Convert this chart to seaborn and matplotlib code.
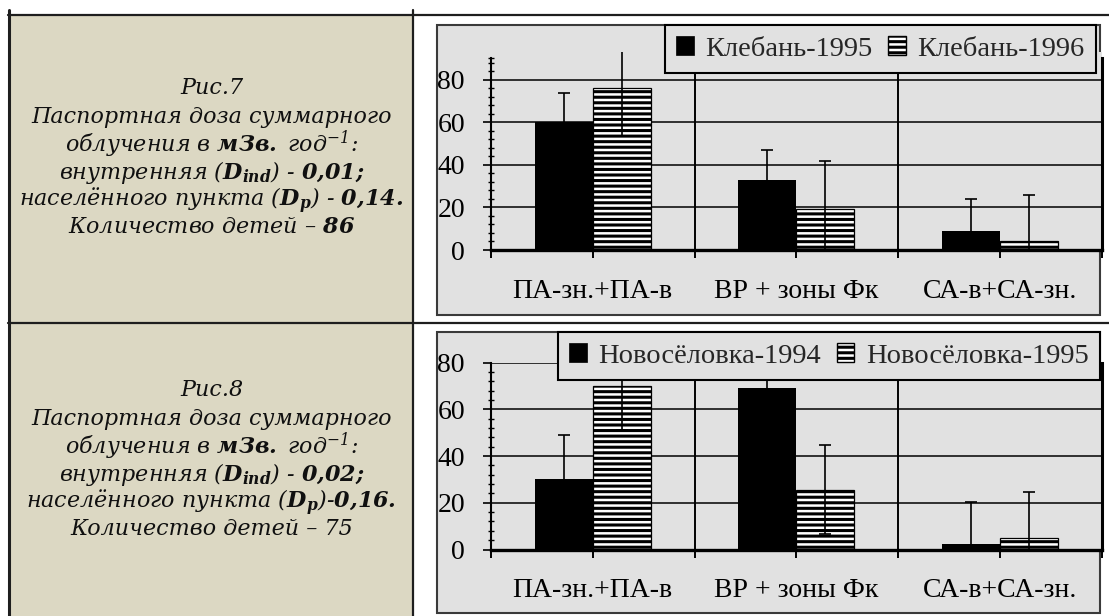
import matplotlib
matplotlib.use("Agg")
import numpy as np
import pandas as pd
import seaborn as sns
import matplotlib.pyplot as plt
from matplotlib.patches import Rectangle, Patch
from matplotlib.lines import Line2D
from matplotlib.ticker import FixedLocator

# ---- data -------------------------------------------------------------
categories = ["ПА-зн.+ПА-в", "ВР + зоны Фк", "СА-в+СА-зн."]

series7 = ["Клебань-1995", "Клебань-1996"]
klebань_1995 = [60, 33, 9]
klebань_1995_err = [14, 14, 15]
klebань_1996 = [76, 19.5, 4]
klebань_1996_err = [22.5, 22.5, 22]

series8 = ["Новосёловка-1994", "Новосёловка-1995"]
novoselovka_1994 = [30, 69, 2.5]
novoselovka_1994_err = [19, 19, 18]
novoselovka_1995 = [70, 25.5, 5]
novoselovka_1995_err = [18.7, 19, 19.5]

y_ticks = [0, 20, 40, 60, 80]

caption7 = [
    "Рис.7",
    "Паспортная доза суммарного",
    r"облучения в $\mathbf{мЗв.}$ год$^{-1}$:",
    r"внутренняя ($\mathbf{D}_{\mathbf{ind}}$) - $\mathbf{0{,}01;}$",
    r"населённого пункта ($\mathbf{D}_{\mathbf{p}}$) - $\mathbf{0{,}14.}$",
    r"Количество детей – $\mathbf{86}$",
]
caption8 = [
    "Рис.8",
    "Паспортная доза суммарного",
    r"облучения в $\mathbf{мЗв.}$ год$^{-1}$:",
    r"внутренняя ($\mathbf{D}_{\mathbf{ind}}$) - $\mathbf{0{,}02;}$",
    r"населённого пункта ($\mathbf{D}_{\mathbf{p}}$)-$\mathbf{0{,}16.}$",
    "Количество детей – 75",
]

# ---- style ------------------------------------------------------------
sns.set_theme(style="ticks")
plt.rcParams["font.family"] = ["Liberation Serif", "DejaVu Serif"]
plt.rcParams["mathtext.fontset"] = "custom"
plt.rcParams["mathtext.rm"] = "DejaVu Serif:italic"
plt.rcParams["mathtext.it"] = "DejaVu Serif:italic"
plt.rcParams["mathtext.bf"] = "DejaVu Serif:italic:bold"
plt.rcParams["hatch.linewidth"] = 2.2
plt.rcParams["hatch.color"] = "black"

W, H = 1109, 616
CHART_BG = "#E1E1E1"
PANEL_BG = "#DCD8C3"


def fx(x):
    return x / W


def fy(y):
    return 1 - y / H


fig = plt.figure(figsize=(W / 100, H / 100), dpi=100)
fig.patch.set_facecolor("white")

# table cells on the left and framed chart areas on the right
fig.add_artist(Rectangle((fx(9), fy(616)), fx(413) - fx(9), fy(15) - fy(616),
                         transform=fig.transFigure, facecolor=PANEL_BG,
                         edgecolor="none", zorder=-20))
for top, bottom in [(25, 315), (332, 613)]:
    fig.add_artist(Rectangle((fx(437), fy(bottom)), fx(1100) - fx(437),
                             (bottom - top) / H, transform=fig.transFigure,
                             facecolor=CHART_BG, edgecolor="#3a3a3a",
                             linewidth=1.5, zorder=-10))
for yy in (15, 323):
    fig.add_artist(Line2D([fx(8), 1], [fy(yy), fy(yy)], transform=fig.transFigure,
                          color="#1e1e1e", linewidth=1.6))
fig.add_artist(Line2D([fx(8.5), fx(8.5)], [fy(10), 0], transform=fig.transFigure,
                      color="#1e1e1e", linewidth=2.2))
fig.add_artist(Line2D([fx(413), fx(413)], [fy(10), 0], transform=fig.transFigure,
                      color="#1e1e1e", linewidth=1.6))


def draw_chart(ax, series, values, errors, ylim_top, spine_top, legend_anchor):
    df = pd.DataFrame({
        "category": categories * 2,
        "series": [series[0]] * 3 + [series[1]] * 3,
        "value": list(values[0]) + list(values[1]),
    })
    sns.barplot(data=df, x="category", y="value", hue="series",
                order=categories, hue_order=series,
                palette=["black", "white"], saturation=1, width=0.57,
                errorbar=None, legend=False, ax=ax)

    solid, striped = ax.containers[0], ax.containers[1]
    for p in solid:
        p.set_edgecolor("black")
        p.set_linewidth(0)
    for p in striped:
        p.set_hatch("---")
        p.set_edgecolor("black")
        p.set_linewidth(0.9)

    for cont, vals, errs in zip((solid, striped), values, errors):
        xs = [p.get_x() + p.get_width() / 2 for p in cont]
        ax.errorbar(xs, vals, yerr=errs, fmt="none", ecolor="black",
                    elinewidth=1.2, capsize=4.3, capthick=1.2, zorder=4)

    # grid: value lines behind bars, category separators
    for v in y_ticks[1:]:
        ax.axhline(v, color="black", linewidth=1.1, zorder=0.5)
    for b in (0.5, 1.5):
        ax.axvline(b, color="black", linewidth=1.4, zorder=0.5)

    ax.set_facecolor(CHART_BG)
    ax.set_xlim(-0.5, 2.5)
    ax.set_ylim(0, ylim_top)
    ax.set_xlabel("")
    ax.set_ylabel("")
    ax.set_yticks(y_ticks)
    ax.set_yticklabels([str(t) for t in y_ticks])
    minor = [t for t in np.arange(4, spine_top, 4) if t % 20 != 0]
    if spine_top % 4 != 0:
        minor.append(spine_top)
    ax.yaxis.set_minor_locator(FixedLocator(minor))
    ax.xaxis.set_minor_locator(FixedLocator([-0.5, 0.5, 1.5, 2.5]))

    ax.tick_params(axis="x", which="both", direction="out", length=5.8,
                   width=1.4, color="black", bottom=True)
    ax.tick_params(axis="x", which="major", pad=15, labelsize=20,
                   labelcolor="black")
    ax.tick_params(axis="y", which="major", direction="out", length=5.8,
                   width=1.2, pad=13, labelsize=20, labelcolor="black",
                   color="black", left=True)
    ax.tick_params(axis="y", which="minor", direction="inout", length=4.5,
                   width=1.0, color="black", left=True)

    ax.spines["top"].set_visible(False)
    for side, lw in (("left", 1.5), ("right", 2.2), ("bottom", 2.4)):
        ax.spines[side].set_visible(True)
        ax.spines[side].set_color("black")
        ax.spines[side].set_linewidth(lw)
    ax.spines["left"].set_bounds(0, spine_top)
    ax.spines["right"].set_bounds(0, spine_top)

    handles = [
        Patch(facecolor="black", edgecolor="black", linewidth=0.5),
        Patch(facecolor="white", edgecolor="black", hatch="---", linewidth=1.0),
    ]
    leg = ax.legend(handles, series, loc="upper right", ncol=2,
                    bbox_to_anchor=legend_anchor, bbox_transform=fig.transFigure,
                    frameon=True, fancybox=False, framealpha=1,
                    facecolor=CHART_BG, edgecolor="black", fontsize=20.5,
                    handlelength=0.62, handleheight=0.62, handletextpad=0.4,
                    columnspacing=0.55, borderpad=0.4, borderaxespad=0)
    leg.get_frame().set_linewidth(1.5)


ax7 = fig.add_axes([fx(491), fy(250), (1101.5 - 491) / W, (250 - 52.1) / H])
draw_chart(ax7, series7, (klebань_1995, klebань_1996),
           (klebань_1995_err, klebань_1996_err), 93, 90, (fx(1096), fy(25)))

ax8 = fig.add_axes([fx(491), fy(549.5), (1101.5 - 491) / W, (549.5 - 362.5) / H])
draw_chart(ax8, series8, (novoselovka_1994, novoselovka_1995),
           (novoselovka_1994_err, novoselovka_1995_err), 80, 80, (fx(1100), fy(332)))

# captions in the left cells
baselines7 = [94, 123.5, 152, 179, 206, 233]
for text, b in zip(caption7, baselines7):
    fig.text(fx(211.5), fy(b), text, ha="center", va="baseline",
             family="DejaVu Serif", style="italic", fontsize=16, color="#101010")
for text, b in zip(caption8, baselines7):
    fig.text(fx(211.5), fy(b + 302), text, ha="center", va="baseline",
             family="DejaVu Serif", style="italic", fontsize=16, color="#101010")

fig.savefig("out.png", dpi=100)
